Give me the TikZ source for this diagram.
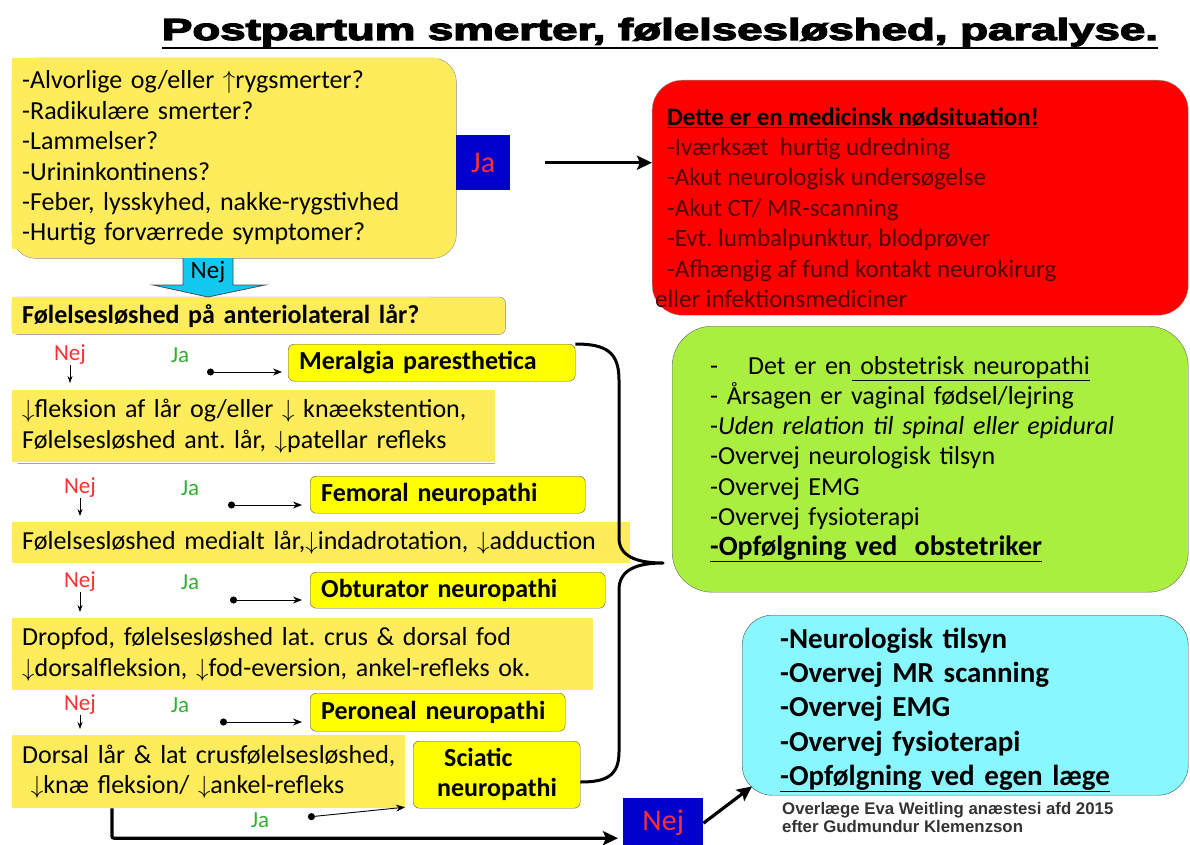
\documentclass[tikz,border=0pt]{standalone}
\usepackage{fontspec}
\setmainfont{Carlito}
\newfontfamily\arialf{Liberation Sans}
\usetikzlibrary{backgrounds,arrows.meta}
\definecolor{yelA}{HTML}{FFEC5C}
\definecolor{yelB}{HTML}{FFFF00}
\definecolor{redbox}{HTML}{FF0000}
\definecolor{redtxt}{HTML}{500000}
\definecolor{greenbox}{HTML}{AAEE40}
\definecolor{cyanbox}{HTML}{88F7FF}
\definecolor{cyanarrow}{HTML}{10C8F0}
\definecolor{bluebox}{HTML}{0000CC}
\definecolor{nejred}{HTML}{FF3030}
\definecolor{jagreen}{HTML}{33B033}
\definecolor{shadowblue}{HTML}{8FA8C8}
\newcommand{\fsz}[2]{\fontsize{#1}{#2}\selectfont}
\newcommand{\mydn}{$\downarrow$}
\newcommand{\myup}{$\uparrow$}
\newcommand{\heavytext}[1]{\special{pdf:literal direct 2 Tr 1.1 w}#1\special{pdf:literal direct 0 Tr}}
\frenchspacing
\begin{document}
\begin{tikzpicture}[x=1pt,y=-1pt,
  lbox/.style={anchor=north west, inner xsep=10pt, inner ysep=0pt, align=left, font={\fsz{26}{30.4}\frenchspacing\hyphenpenalty=10000\exhyphenpenalty=10000}},
  ylw/.style={lbox, fill=yelA},
  diag/.style={anchor=north west, fill=yelB, draw=black!65, rounded corners=6pt, inner xsep=11pt, inner ysep=0pt, align=left, font=\fsz{26}{30}\bfseries},
  bluebx/.style={anchor=north west, fill=bluebox, draw=none, text=nejred, font=\fsz{30}{30}, inner sep=0pt},
  bigbox/.style={anchor=north west, inner xsep=0pt, inner ysep=0pt},
  nejlbl/.style={text=nejred, font=\fsz{23}{23}, inner sep=0pt},
  jalbl/.style={text=jagreen, font=\fsz{23}{23}, inner sep=0pt},
  thickarr/.style={line width=3.2pt, -{Stealth[length=15pt,width=14pt,inset=3pt]}},
  dotarr/.style={line width=0.9pt, {Circle[length=7pt]}-{Stealth[length=9pt,width=7pt]}},
  smallarr/.style={line width=0.8pt, -{Stealth[length=7pt,width=5pt]}},
  bracepath/.style={line width=3pt, line join=round}
]
\useasboundingbox (0,0) rectangle (1190,845);

% title
\node[anchor=base, inner sep=0pt] (title) at (660,40)
  {\resizebox{996pt}{\height}{\arialf\fsz{30.5}{31}\bfseries\heavytext{Postpartum smerter, følelsesløshed, paralyse.}}};
\draw[line width=2.6pt] ([yshift=-8pt]title.base west) -- ([yshift=-8pt]title.base east);

% first question box
\node[lbox, text width=424pt, minimum height=200pt] (q1) at (12,58)
 {-Alvorlige og/eller \myup rygsmerter?\\
  -Radikulære smerter?\\
  -Lammelser?\\
  -Urininkontinens?\\
  -Feber, lysskyhed, nakke-rygstivhed\\
  -Hurtig forværrede symptomer?};
\node[lbox, text width=473pt, minimum height=37pt, font=\fsz{26}{30}\bfseries] (q2) at (12,297)
 {Følelsesløshed på anteriolateral lår?};
\begin{scope}[on background layer]
  \filldraw[fill=yelA, draw=black!45, rounded corners=24pt] (q1.north west) rectangle (q1.south east);
  \fill[yelA] (q1.north west) rectangle ([xshift=-18pt, yshift=9pt]q1.south east);
  \filldraw[fill=yelA, draw=black!50, rounded corners=6pt] (q2.north west) rectangle (q2.south east);
  \fill[yelA] (q2.north west) rectangle ([xshift=-75pt]q2.south east);
\end{scope}

% Ja box and arrow to red box
\node[bluebx, minimum width=54pt, minimum height=55pt] (ja1) at (456,135) {Ja};
\node[bigbox, fill=redbox, draw=black!40, rounded corners=30pt, minimum width=536pt, minimum height=235pt] (red) at (652,80) {};
\node[anchor=north west, inner sep=0pt, align=left, text=redtxt, font=\fsz{25}{30.4}\frenchspacing] (redtext) at (667,103.7)
 {\strut\textcolor{black}{\textbf{\underline{Dette er en medicinsk nødsituation!}}}\\
  -Iværksæt\ \ hurtig udredning\\
  -Akut neurologisk undersøgelse\\
  -Akut CT/ MR-scanning\\
  -Evt. lumbalpunktur, blodprøver\\
  -Afhængig af fund kontakt neurokirurg\\
  \hspace*{-12pt}eller infektionsmediciner};
\draw[thickarr, shorten <=35pt] (ja1.east) -- (red.west |- ja1.east);

% Nej big arrow
\filldraw[fill=cyanarrow, draw=black!70, line width=0.8pt]
  (183,258) -- (183,285) -- (153,285) -- (208,297) -- (265,285) -- (233,285) -- (233,258);
\node[inner sep=0pt, font=\fsz{25}{25}] (nejA) at (208,272) {Nej};

% left column boxes
\node[ylw, text width=463pt, minimum height=72pt] (q3) at (12,390)
 {\mydn fleksion af lår og/eller \mydn\ knæekstention,\\ Følelsesløshed ant. lår, \mydn patellar refleks};
\draw[shadowblue, line width=1.5pt, line cap=round] ([xshift=6pt,yshift=-1pt]q3.south west) -- ([xshift=-1pt,yshift=-1pt]q3.south east);
\node[ylw, text width=598pt, minimum height=41pt] (q4) at (12,522)
 {Følelsesløshed medialt lår,\mydn indadrotation, \mydn adduction};
\node[ylw, text width=561pt, minimum height=72pt] (q5) at (12,618)
 {Dropfod, følelsesløshed lat. crus \& dorsal fod\\ \mydn dorsalfleksion, \mydn fod-eversion, ankel-refleks ok.};
\node[ylw, text width=373pt, minimum height=73pt] (q6) at (12,735)
 {\makebox[373pt][l]{Dorsal lår \& lat crusfølelsesløshed,}\\ \ \mydn knæ fleksion/ \mydn ankel-refleks};

% diagnosis boxes
\node[diag, text width=265pt, minimum height=37pt] (d1) at (288,344) {Meralgia paresthetica};
\node[diag, text width=253pt, minimum height=37pt] (d2) at (310,476) {Femoral neuropathi};
\node[diag, text width=273pt, minimum height=36pt] (d3) at (310,572) {Obturator neuropathi};
\node[diag, text width=233pt, minimum height=38pt] (d4) at (310,693) {Peroneal neuropathi};
\node[diag, inner xsep=24pt, text width=119pt, minimum height=67pt] (d5) at (413,741) {\hspace*{7pt}Sciatic\\neuropathi};

% Nej / Ja labels and arrows
\node[nejlbl] (n1) at (70,355) {Nej};
\node[jalbl] (j1) at (180,355) {Ja};
\draw[smallarr, shorten >=7pt] (n1.south) -- (n1.south |- q3.north);
\coordinate (c1) at (207,372);
\draw[dotarr, shorten >=6pt] (c1) -- (c1 -| d1.west);

\node[nejlbl] (n2) at (80,488) {Nej};
\node[jalbl] (j2) at (190,488) {Ja};
\draw[smallarr, shorten >=6pt] (n2.south) -- (n2.south |- q4.north);
\coordinate (c2) at (228,505);
\draw[dotarr, shorten >=8pt] (c2) -- (c2 -| d2.west);

\node[nejlbl] (n3) at (80,582) {Nej};
\node[jalbl] (j3) at (190,582) {Ja};
\draw[smallarr, shorten >=6pt] (n3.south) -- (n3.south |- q5.north);
\coordinate (c3) at (230,600);
\draw[dotarr, shorten >=8pt] (c3) -- (c3 -| d3.west);

\node[nejlbl] (n4) at (80,705) {Nej};
\node[jalbl] (j4) at (180,705) {Ja};
\draw[smallarr, shorten >=6pt] (n4.south) -- (n4.south |- q6.north);
\coordinate (c4) at (220,722);
\draw[dotarr, shorten >=8pt] (c4) -- (c4 -| d4.west);

\node[jalbl] (j5) at (260,820) {Ja};
\coordinate (c5) at (308,817);
\draw[dotarr, shorten >=8pt] (c5) -- ([yshift=2pt]d5.south west);

% bottom Nej box and arrows
\node[bluebx, minimum width=80pt, minimum height=50pt] (nej2) at (623,798) {Nej};
\draw[thickarr, rounded corners=2pt, shorten >=5pt] ([xshift=100pt]q6.south west) |- ([yshift=-15pt]nej2.west);

% green box
\node[bigbox, fill=greenbox, draw=black!60, rounded corners=40pt, minimum width=516pt, minimum height=266pt,
      inner xsep=38pt, text width=440pt, align=left, font=\fsz{26}{30.2}\frenchspacing] (green) at (672,326)
 {-\hspace{30pt}Det er en\underline{ obstetrisk neuropathi}\\
  - Årsagen er vaginal fødsel/lejring\\
  -\textit{Uden relation til spinal eller epidural}\\
  -Overvej neurologisk tilsyn\\
  -Overvej EMG\\
  -Overvej fysioterapi\\
  {\fsz{28}{32}\bfseries\underline{-Opfølgning ved\ \ obstetriker}}};

% cyan box
\node[bigbox, fill=cyanbox, draw=black!70, rounded corners=30pt, minimum width=446pt, minimum height=180pt,
      inner xsep=38pt, text width=370pt, align=left, font=\fsz{29}{34.3}\bfseries] (cyan) at (742,615)
 {\rule{0pt}{30pt}-Neurologisk tilsyn\\
  -Overvej MR scanning\\
  -Overvej EMG\\
  -Overvej fysioterapi\\
  \underline{-Opfølgning ved egen læge}};
\draw[thickarr] (nej2.east) -- ([xshift=10pt,yshift=9pt]cyan.south west);

% footnote
\node[anchor=north west, inner sep=0pt, align=left, text=black!80, font=\arialf\fsz{16.8}{18}\bfseries] (foot) at (782,802)
 {Overlæge Eva Weitling anæstesi afd 2015\\efter Gudmundur Klemenzson};

% brace
\coordinate (tip) at (663,563);
\draw[bracepath] (d1.north east) .. controls (606,344) and (619,352) .. (619,380)
  -- (619,538) .. controls (619,556) and (636,563) .. (tip)
  .. controls (636,563) and (619,570) .. (619,590)
  -- (619,752) .. controls (619,776) and (606,782) .. (d5.east |- 0,782);
\end{tikzpicture}
\end{document}
